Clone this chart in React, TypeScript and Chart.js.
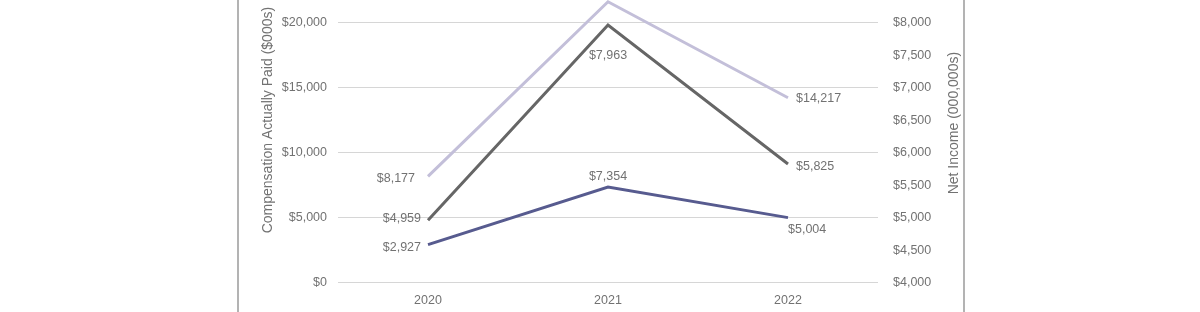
import React, { useEffect, useRef } from 'react';
import { Chart, registerables } from 'chart.js';

Chart.register(...registerables);

// ---- data ----
const YEARS = ['2020', '2021', '2022'];
const PEO_CAP = [8177, 21600, 14217]; // left axis ($000s)
const NET_INCOME = [4959, 7963, 5825]; // right axis (000,000s)
const NEO_AVG_CAP = [2927, 7354, 5004]; // left axis ($000s)

const LEFT_MIN = 0;
const LEFT_MAX = 25000;
const LEFT_STEP = 5000;
const RIGHT_MIN = 4000;
const RIGHT_MAX = 9000;
const RIGHT_STEP = 500;

const LEFT_TITLE = 'Compensation Actually Paid ($000s)';
const RIGHT_TITLE = 'Net Income (000,000s)';

// ---- styles ----
const FONT = "'Liberation Sans', Arial, Helvetica, sans-serif";
const TEXT = '#727272';
const LAVENDER = '#c3bfd9';
const DARK = '#666666';
const PURPLE = '#575b8f';
const SIZE = 12.5;

// label placement per series/point: [dx, dy, align]
const LABEL_PLACE: [number, number, CanvasTextAlign][][] = [
  [[-13, 2, 'right'], [0, -12, 'center'], [8, 1, 'left']],
  [[-7, -1.5, 'right'], [0, 31, 'center'], [8, 3, 'left']],
  [[-7, 2.5, 'right'], [0, -10, 'center'], [0, 12, 'left']],
];

const money = (v: number) => '$' + Number(v).toLocaleString('en-US');

const dataLabels = {
  id: 'dataLabels',
  afterDatasetsDraw(chart: any) {
    const ctx = chart.ctx;
    ctx.save();
    ctx.font = `${SIZE}px ${FONT}`;
    ctx.fillStyle = TEXT;
    ctx.textBaseline = 'middle';
    chart.data.datasets.forEach((ds: any, di: number) => {
      const meta = chart.getDatasetMeta(di);
      meta.data.forEach((pt: any, i: number) => {
        const [dx, dy, align] = LABEL_PLACE[di][i];
        ctx.textAlign = align;
        ctx.fillText(money(ds.data[i]), pt.x + dx, pt.y + dy);
      });
    });
    ctx.restore();
  },
};

const rightTitle = {
  id: 'rightTitle',
  afterDraw(chart: any) {
    const ctx = chart.ctx;
    const s = chart.scales.y1;
    const area = chart.chartArea;
    ctx.save();
    ctx.font = `14px ${FONT}`;
    ctx.fillStyle = TEXT;
    ctx.textAlign = 'center';
    ctx.textBaseline = 'middle';
    ctx.translate(s.left + 76, (area.top + area.bottom) / 2 + 3);
    ctx.rotate(-Math.PI / 2);
    ctx.fillText(RIGHT_TITLE, 0, 0);
    ctx.restore();
  },
};

export default function App() {
  const ref = useRef<HTMLCanvasElement | null>(null);

  useEffect(() => {
    if (!ref.current) return;
    Chart.defaults.font.family = FONT;
    const chart = new Chart(ref.current, {
      type: 'line',
      data: {
        labels: YEARS,
        datasets: [
          {
            label: 'PEO Compensation Actually Paid',
            data: PEO_CAP,
            yAxisID: 'y',
            borderColor: LAVENDER,
            backgroundColor: LAVENDER,
            borderWidth: 3,
            pointRadius: 0,
            tension: 0,
          },
          {
            label: 'Net Income',
            data: NET_INCOME,
            yAxisID: 'y1',
            borderColor: DARK,
            backgroundColor: DARK,
            borderWidth: 3,
            pointRadius: 0,
            tension: 0,
          },
          {
            label: 'Average Non-PEO NEO Compensation Actually Paid',
            data: NEO_AVG_CAP,
            yAxisID: 'y',
            borderColor: PURPLE,
            backgroundColor: PURPLE,
            borderWidth: 3,
            pointRadius: 0,
            tension: 0,
          },
        ],
      },
      options: {
        animation: false,
        responsive: false,
        maintainAspectRatio: false,
        layout: { padding: { left: 259.6, right: 0, top: 0, bottom: 0 } },
        plugins: {
          legend: { display: false },
          tooltip: { enabled: false },
        },
        scales: {
          x: {
            offset: true,
            grid: { display: false, drawTicks: false },
            border: { display: false },
            ticks: { color: TEXT, font: { size: SIZE }, padding: 10 },
            afterFit: (a: any) => { a.height = 29.3; },
          },
          y: {
            position: 'left',
            min: LEFT_MIN,
            max: LEFT_MAX,
            grid: { color: '#d6d6d6', lineWidth: 1, drawTicks: false },
            border: { display: false },
            ticks: {
              stepSize: LEFT_STEP,
              color: TEXT,
              font: { size: SIZE },
              padding: 11,
              callback: (v: any) => money(v),
            },
            title: {
              display: true,
              text: LEFT_TITLE,
              color: TEXT,
              font: { size: 14 },
              padding: 0,
            },
            afterFit: (a: any) => { a.width = 338 - 259.6; },
          },
          y1: {
            position: 'right',
            min: RIGHT_MIN,
            max: RIGHT_MAX,
            grid: { display: false, drawTicks: false },
            border: { display: false },
            ticks: {
              stepSize: RIGHT_STEP,
              color: TEXT,
              font: { size: SIZE },
              padding: 15,
              callback: (v: any) => money(v),
            },
            afterFit: (a: any) => { a.width = 1200 - 878; },
          },
        },
      },
      plugins: [dataLabels, rightTitle],
    } as any);
    return () => chart.destroy();
  }, []);

  return (
    <div
      style={{
        position: 'fixed',
        left: 0,
        top: 0,
        width: 1200,
        height: 312,
        overflow: 'hidden',
        background: '#fff',
      }}
    >
      <div
        style={{
          position: 'absolute',
          left: 237,
          top: 0,
          width: 724,
          height: 312,
          borderLeft: '2px solid #b3b3b3',
          borderRight: '2px solid #b3b3b3',
        }}
      />
      <canvas
        ref={ref}
        width={1200}
        height={377}
        style={{ position: 'absolute', left: 0, top: -65.2, width: 1200, height: 377 }}
      />
    </div>
  );
}
